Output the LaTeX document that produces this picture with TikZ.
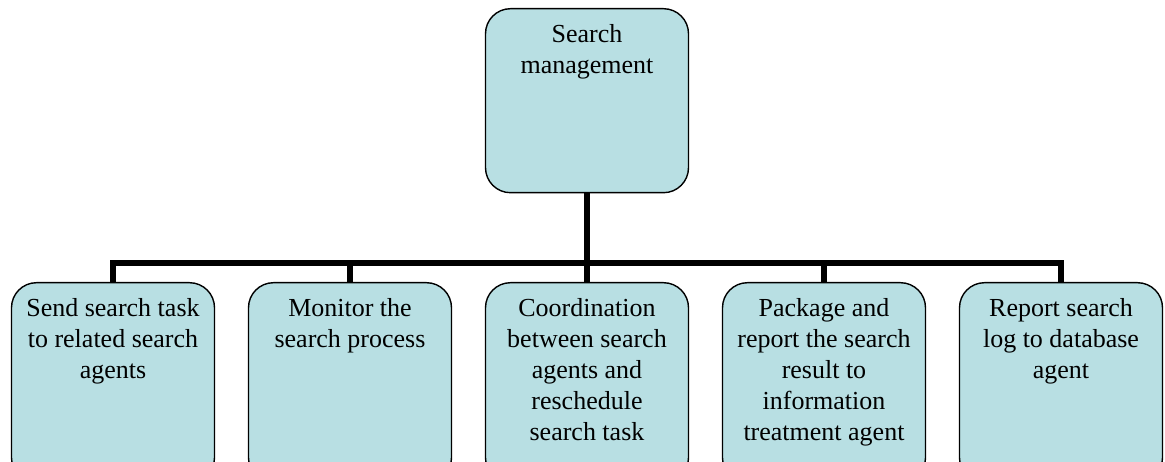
\documentclass[tikz,border=0pt]{standalone}
\usepackage{fontspec}
\setmainfont{Liberation Serif}
\definecolor{boxfill}{HTML}{B8DFE3}
\begin{document}
\begin{tikzpicture}[x=1pt,y=-1pt,
  box/.style={draw=black, line width=1.4pt, fill=boxfill, rounded corners=25pt,
    minimum width=203pt, inner sep=0pt, anchor=north},
  boxtext/.style={anchor=base, inner sep=0pt, font=\fontsize{26}{31}\selectfont},
  conn/.style={draw=black, line width=6pt}]
\useasboundingbox (0,0) rectangle (1165,462);
\clip (0,0) rectangle (1165,462);

% root box
\node[box, minimum height=184pt] (top) at (587,8) {};
% task boxes (run past the lower edge)
\node[box, minimum height=200pt] (b1) at (113,282) {};
\node[box, minimum height=200pt] (b2) at (350,282) {};
\node[box, minimum height=200pt] (b3) at (587,282) {};
\node[box, minimum height=200pt] (b4) at (824,282) {};
\node[box, minimum height=200pt] (b5) at (1061,282) {};

% texts, first baseline 35pt below each box top
\node[boxtext] (t0) at ([yshift=-35pt]top.north) {\parbox[t]{200pt}{\centering Search\\management}};
\node[boxtext] (t1) at ([yshift=-35pt]b1.north) {\parbox[t]{200pt}{\centering Send search task\\to related search\\agents}};
\node[boxtext] (t2) at ([yshift=-35pt]b2.north) {\parbox[t]{200pt}{\centering Monitor the\\search process}};
\node[boxtext] (t3) at ([yshift=-35pt]b3.north) {\parbox[t]{200pt}{\centering Coordination\\between search\\agents and\\reschedule\\search task}};
\node[boxtext] (t4) at ([yshift=-35pt]b4.north) {\parbox[t]{200pt}{\centering Package and\\report the search\\result to\\information\\treatment agent}};
\node[boxtext] (t5) at ([yshift=-35pt]b5.north) {\parbox[t]{200pt}{\centering Report search\\log to database\\agent}};

% tree connectors
\coordinate (bar) at (0,263);
\draw[conn] (top.south) -- (b3.north);
\draw[conn] (b1.north) -- (b1.north |- bar) -- (b5.north |- bar) -- (b5.north);
\draw[conn] (b2.north |- bar) -- (b2.north);
\draw[conn] (b4.north |- bar) -- (b4.north);
\end{tikzpicture}
\end{document}
